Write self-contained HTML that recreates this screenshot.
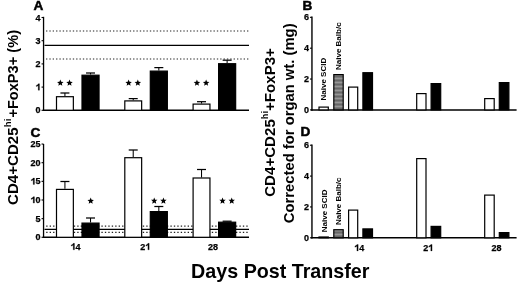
<!DOCTYPE html>
<html><head><meta charset="utf-8"><style>
html,body{margin:0;padding:0;background:#fff;}
svg{display:block;filter:grayscale(1);}
text{font-family:'Liberation Sans',sans-serif;font-weight:bold;fill:#000;}
</style></head><body>
<svg width="520" height="284" viewBox="0 0 520 284">
<defs><pattern id="hatch" width="4" height="4" patternUnits="userSpaceOnUse"><rect width="4" height="4" fill="#7a7a7a"/><rect y="0" width="4" height="1" fill="#666"/><rect y="2" width="4" height="1" fill="#969696"/></pattern></defs>
<rect width="520" height="284" fill="#fff"/>
<text x="33.50" y="10.10" font-size="13.6" text-anchor="start" stroke="#000" stroke-width="0.5">A</text>
<line x1="43.55" y1="16.80" x2="43.55" y2="111.00" stroke="#000" stroke-width="1.3"/>
<line x1="42.90" y1="110.30" x2="249.00" y2="110.30" stroke="#000" stroke-width="1.4"/>
<line x1="41.55" y1="110.30" x2="43.55" y2="110.30" stroke="#000" stroke-width="1.1"/>
<text x="35.60" y="113.40" font-size="9" stroke="#000" stroke-width="0.25">0</text>
<line x1="41.55" y1="87.10" x2="43.55" y2="87.10" stroke="#000" stroke-width="1.1"/>
<path d="M39.47,90.20 L38.21,90.20 L38.21,85.52 L37.22,86.15 L36.23,86.51 L36.23,85.38 L37.40,84.89 L38.30,83.76 L39.47,83.76Z" fill="#000" stroke="#000" stroke-width="0.25"/>
<line x1="41.55" y1="63.90" x2="43.55" y2="63.90" stroke="#000" stroke-width="1.1"/>
<text x="35.60" y="67.00" font-size="9" stroke="#000" stroke-width="0.25">2</text>
<line x1="41.55" y1="40.70" x2="43.55" y2="40.70" stroke="#000" stroke-width="1.1"/>
<text x="35.60" y="43.80" font-size="9" stroke="#000" stroke-width="0.25">3</text>
<line x1="41.55" y1="17.50" x2="43.55" y2="17.50" stroke="#000" stroke-width="1.1"/>
<text x="35.60" y="20.60" font-size="9" stroke="#000" stroke-width="0.25">4</text>
<line x1="46.00" y1="31.00" x2="249.00" y2="31.00" stroke="#222" stroke-width="1.15" stroke-dasharray="1.35 2.0"/>
<line x1="44.50" y1="45.35" x2="249.00" y2="45.35" stroke="#000" stroke-width="1.3"/>
<line x1="46.00" y1="59.00" x2="249.00" y2="59.00" stroke="#222" stroke-width="1.15" stroke-dasharray="1.35 2.0"/>
<rect x="56.50" y="96.70" width="16.85" height="13.60" fill="#fff" stroke="#000" stroke-width="1.2"/>
<line x1="64.92" y1="96.10" x2="64.92" y2="93.00" stroke="#000" stroke-width="1.05"/>
<line x1="60.42" y1="93.00" x2="69.42" y2="93.00" stroke="#000" stroke-width="1.25"/>
<rect x="82.00" y="75.20" width="17.05" height="35.10" fill="#000" stroke="#000" stroke-width="1.2"/>
<line x1="90.53" y1="74.60" x2="90.53" y2="73.00" stroke="#000" stroke-width="1.05"/>
<line x1="86.03" y1="73.00" x2="95.03" y2="73.00" stroke="#000" stroke-width="1.25"/>
<polygon points="60.32,79.60 61.22,81.76 63.56,81.95 61.78,83.47 62.32,85.75 60.32,84.53 58.33,85.75 58.87,83.47 57.09,81.95 59.43,81.76" fill="#000"/>
<polygon points="69.52,79.60 70.42,81.76 72.76,81.95 70.98,83.47 71.52,85.75 69.52,84.53 67.53,85.75 68.07,83.47 66.29,81.95 68.63,81.76" fill="#000"/>
<rect x="124.80" y="100.90" width="16.85" height="9.40" fill="#fff" stroke="#000" stroke-width="1.2"/>
<line x1="133.22" y1="100.30" x2="133.22" y2="98.60" stroke="#000" stroke-width="1.05"/>
<line x1="128.72" y1="98.60" x2="137.72" y2="98.60" stroke="#000" stroke-width="1.25"/>
<rect x="150.30" y="71.10" width="17.05" height="39.20" fill="#000" stroke="#000" stroke-width="1.2"/>
<line x1="158.82" y1="70.50" x2="158.82" y2="67.60" stroke="#000" stroke-width="1.05"/>
<line x1="154.32" y1="67.60" x2="163.32" y2="67.60" stroke="#000" stroke-width="1.25"/>
<polygon points="128.62,79.60 129.52,81.76 131.86,81.95 130.08,83.47 130.62,85.75 128.62,84.53 126.63,85.75 127.17,83.47 125.39,81.95 127.73,81.76" fill="#000"/>
<polygon points="137.82,79.60 138.72,81.76 141.06,81.95 139.28,83.47 139.82,85.75 137.82,84.53 135.83,85.75 136.37,83.47 134.59,81.95 136.93,81.76" fill="#000"/>
<rect x="193.10" y="104.10" width="16.85" height="6.20" fill="#fff" stroke="#000" stroke-width="1.2"/>
<line x1="201.53" y1="103.50" x2="201.53" y2="101.70" stroke="#000" stroke-width="1.05"/>
<line x1="197.03" y1="101.70" x2="206.03" y2="101.70" stroke="#000" stroke-width="1.25"/>
<rect x="218.60" y="63.70" width="17.05" height="46.60" fill="#000" stroke="#000" stroke-width="1.2"/>
<line x1="227.12" y1="63.10" x2="227.12" y2="60.20" stroke="#000" stroke-width="1.05"/>
<line x1="222.62" y1="60.20" x2="231.62" y2="60.20" stroke="#000" stroke-width="1.25"/>
<polygon points="196.93,79.60 197.82,81.76 200.16,81.95 198.38,83.47 198.92,85.75 196.93,84.53 194.93,85.75 195.47,83.47 193.69,81.95 196.03,81.76" fill="#000"/>
<polygon points="206.12,79.60 207.02,81.76 209.36,81.95 207.58,83.47 208.12,85.75 206.12,84.53 204.13,85.75 204.67,83.47 202.89,81.95 205.23,81.76" fill="#000"/>
<text x="30.60" y="136.50" font-size="13.6" text-anchor="start" stroke="#000" stroke-width="0.5">C</text>
<line x1="43.55" y1="144.00" x2="43.55" y2="238.00" stroke="#000" stroke-width="1.3"/>
<line x1="42.90" y1="237.30" x2="249.00" y2="237.30" stroke="#000" stroke-width="1.4"/>
<line x1="41.55" y1="237.30" x2="43.55" y2="237.30" stroke="#000" stroke-width="1.1"/>
<text x="35.60" y="240.40" font-size="9" stroke="#000" stroke-width="0.25">0</text>
<line x1="41.55" y1="218.65" x2="43.55" y2="218.65" stroke="#000" stroke-width="1.1"/>
<text x="35.60" y="221.75" font-size="9" stroke="#000" stroke-width="0.25">5</text>
<line x1="41.55" y1="200.00" x2="43.55" y2="200.00" stroke="#000" stroke-width="1.1"/>
<path d="M34.46,203.10 L33.20,203.10 L33.20,198.42 L32.21,199.05 L31.22,199.41 L31.22,198.28 L32.39,197.79 L33.29,196.66 L34.46,196.66Z" fill="#000" stroke="#000" stroke-width="0.25"/>
<text x="35.60" y="203.10" font-size="9" stroke="#000" stroke-width="0.25">0</text>
<line x1="41.55" y1="181.35" x2="43.55" y2="181.35" stroke="#000" stroke-width="1.1"/>
<path d="M34.46,184.45 L33.20,184.45 L33.20,179.77 L32.21,180.40 L31.22,180.76 L31.22,179.64 L32.39,179.14 L33.29,178.01 L34.46,178.01Z" fill="#000" stroke="#000" stroke-width="0.25"/>
<text x="35.60" y="184.45" font-size="9" stroke="#000" stroke-width="0.25">5</text>
<line x1="41.55" y1="162.70" x2="43.55" y2="162.70" stroke="#000" stroke-width="1.1"/>
<text x="30.59" y="165.80" font-size="9" stroke="#000" stroke-width="0.25">2</text>
<text x="35.60" y="165.80" font-size="9" stroke="#000" stroke-width="0.25">0</text>
<line x1="41.55" y1="144.05" x2="43.55" y2="144.05" stroke="#000" stroke-width="1.1"/>
<text x="30.59" y="147.15" font-size="9" stroke="#000" stroke-width="0.25">2</text>
<text x="35.60" y="147.15" font-size="9" stroke="#000" stroke-width="0.25">5</text>
<line x1="46.20" y1="226.10" x2="249.00" y2="226.10" stroke="#222" stroke-width="1.15" stroke-dasharray="1.35 2.1"/>
<line x1="44.50" y1="229.40" x2="249.00" y2="229.40" stroke="#000" stroke-width="1.3"/>
<line x1="46.20" y1="232.30" x2="249.00" y2="232.30" stroke="#222" stroke-width="1.15" stroke-dasharray="1.35 2.1"/>
<rect x="56.50" y="189.40" width="16.85" height="47.90" fill="#fff" stroke="#000" stroke-width="1.2"/>
<line x1="64.92" y1="188.80" x2="64.92" y2="181.50" stroke="#000" stroke-width="1.05"/>
<line x1="60.42" y1="181.50" x2="69.42" y2="181.50" stroke="#000" stroke-width="1.25"/>
<rect x="82.00" y="223.10" width="17.05" height="14.20" fill="#000" stroke="#000" stroke-width="1.2"/>
<line x1="90.53" y1="222.50" x2="90.53" y2="218.00" stroke="#000" stroke-width="1.05"/>
<line x1="86.03" y1="218.00" x2="95.03" y2="218.00" stroke="#000" stroke-width="1.25"/>
<rect x="124.80" y="157.70" width="16.85" height="79.60" fill="#fff" stroke="#000" stroke-width="1.2"/>
<line x1="133.22" y1="157.10" x2="133.22" y2="150.00" stroke="#000" stroke-width="1.05"/>
<line x1="128.72" y1="150.00" x2="137.72" y2="150.00" stroke="#000" stroke-width="1.25"/>
<rect x="150.30" y="211.60" width="17.05" height="25.70" fill="#000" stroke="#000" stroke-width="1.2"/>
<line x1="158.82" y1="211.00" x2="158.82" y2="206.50" stroke="#000" stroke-width="1.05"/>
<line x1="154.32" y1="206.50" x2="163.32" y2="206.50" stroke="#000" stroke-width="1.25"/>
<rect x="193.10" y="178.00" width="16.85" height="59.30" fill="#fff" stroke="#000" stroke-width="1.2"/>
<line x1="201.53" y1="177.40" x2="201.53" y2="169.50" stroke="#000" stroke-width="1.05"/>
<line x1="197.03" y1="169.50" x2="206.03" y2="169.50" stroke="#000" stroke-width="1.25"/>
<rect x="218.60" y="222.20" width="17.05" height="15.10" fill="#000" stroke="#000" stroke-width="1.2"/>
<line x1="227.12" y1="221.60" x2="227.12" y2="221.20" stroke="#000" stroke-width="1.05"/>
<line x1="222.62" y1="221.20" x2="231.62" y2="221.20" stroke="#000" stroke-width="1.25"/>
<polygon points="90.70,197.60 91.60,199.76 93.93,199.95 92.16,201.47 92.70,203.75 90.70,202.53 88.70,203.75 89.24,201.47 87.47,199.95 89.80,199.76" fill="#000"/>
<polygon points="154.22,197.50 155.12,199.66 157.46,199.85 155.68,201.37 156.22,203.65 154.22,202.43 152.23,203.65 152.77,201.37 150.99,199.85 153.33,199.66" fill="#000"/>
<polygon points="163.42,197.50 164.32,199.66 166.66,199.85 164.88,201.37 165.42,203.65 163.42,202.43 161.43,203.65 161.97,201.37 160.19,199.85 162.53,199.66" fill="#000"/>
<polygon points="222.53,197.50 223.42,199.66 225.76,199.85 223.98,201.37 224.52,203.65 222.53,202.43 220.53,203.65 221.07,201.37 219.29,199.85 221.63,199.66" fill="#000"/>
<polygon points="231.72,197.50 232.62,199.66 234.96,199.85 233.18,201.37 233.72,203.65 231.72,202.43 229.73,203.65 230.27,201.37 228.49,199.85 230.83,199.66" fill="#000"/>
<path d="M74.47,249.80 L73.21,249.80 L73.21,245.12 L72.22,245.75 L71.23,246.11 L71.23,244.99 L72.40,244.49 L73.30,243.36 L74.47,243.36Z" fill="#000" stroke="#000" stroke-width="0.25"/>
<text x="75.60" y="249.80" font-size="9" stroke="#000" stroke-width="0.25">4</text>
<text x="140.30" y="249.80" font-size="9" stroke="#000" stroke-width="0.25">2</text>
<path d="M149.17,249.80 L147.91,249.80 L147.91,245.12 L146.92,245.75 L145.93,246.11 L145.93,244.99 L147.10,244.49 L148.00,243.36 L149.17,243.36Z" fill="#000" stroke="#000" stroke-width="0.25"/>
<text x="208.00" y="249.80" font-size="9" stroke="#000" stroke-width="0.25">2</text>
<text x="213.00" y="249.80" font-size="9" stroke="#000" stroke-width="0.25">8</text>
<text x="302.40" y="9.90" font-size="13.6" text-anchor="start" stroke="#000" stroke-width="0.5">B</text>
<line x1="311.95" y1="16.60" x2="311.95" y2="110.65" stroke="#000" stroke-width="1.4"/>
<line x1="311.25" y1="109.90" x2="516.60" y2="109.90" stroke="#000" stroke-width="1.5"/>
<line x1="309.95" y1="109.90" x2="311.95" y2="109.90" stroke="#000" stroke-width="1.1"/>
<text x="304.00" y="113.00" font-size="9" stroke="#000" stroke-width="0.25">0</text>
<line x1="309.95" y1="79.04" x2="311.95" y2="79.04" stroke="#000" stroke-width="1.1"/>
<text x="304.00" y="82.14" font-size="9" stroke="#000" stroke-width="0.25">2</text>
<line x1="309.95" y1="48.18" x2="311.95" y2="48.18" stroke="#000" stroke-width="1.1"/>
<text x="304.00" y="51.28" font-size="9" stroke="#000" stroke-width="0.25">4</text>
<line x1="309.95" y1="17.32" x2="311.95" y2="17.32" stroke="#000" stroke-width="1.1"/>
<text x="304.00" y="20.42" font-size="9" stroke="#000" stroke-width="0.25">6</text>
<rect x="319.00" y="107.10" width="9.30" height="2.80" fill="#fff" stroke="#000" stroke-width="1.2"/>
<rect x="333.80" y="74.60" width="9.40" height="35.30" fill="url(#hatch)" stroke="#000" stroke-width="1.2"/>
<rect x="348.60" y="87.10" width="9.10" height="22.80" fill="#fff" stroke="#000" stroke-width="1.2"/>
<rect x="362.90" y="72.70" width="9.60" height="37.20" fill="#000" stroke="#000" stroke-width="1.2"/>
<rect x="416.70" y="93.60" width="9.30" height="16.30" fill="#fff" stroke="#000" stroke-width="1.2"/>
<rect x="431.10" y="83.60" width="9.60" height="26.30" fill="#000" stroke="#000" stroke-width="1.2"/>
<rect x="484.70" y="98.60" width="9.50" height="11.30" fill="#fff" stroke="#000" stroke-width="1.2"/>
<rect x="499.30" y="82.60" width="9.60" height="27.30" fill="#000" stroke="#000" stroke-width="1.2"/>
<text x="300.50" y="135.90" font-size="13.6" text-anchor="start" stroke="#000" stroke-width="0.5">D</text>
<line x1="311.95" y1="144.60" x2="311.95" y2="238.55" stroke="#000" stroke-width="1.4"/>
<line x1="311.25" y1="237.80" x2="516.60" y2="237.80" stroke="#000" stroke-width="1.5"/>
<line x1="309.95" y1="237.80" x2="311.95" y2="237.80" stroke="#000" stroke-width="1.1"/>
<text x="304.00" y="240.90" font-size="9" stroke="#000" stroke-width="0.25">0</text>
<line x1="309.95" y1="206.94" x2="311.95" y2="206.94" stroke="#000" stroke-width="1.1"/>
<text x="304.00" y="210.04" font-size="9" stroke="#000" stroke-width="0.25">2</text>
<line x1="309.95" y1="176.08" x2="311.95" y2="176.08" stroke="#000" stroke-width="1.1"/>
<text x="304.00" y="179.18" font-size="9" stroke="#000" stroke-width="0.25">4</text>
<line x1="309.95" y1="145.22" x2="311.95" y2="145.22" stroke="#000" stroke-width="1.1"/>
<text x="304.00" y="148.32" font-size="9" stroke="#000" stroke-width="0.25">6</text>
<rect x="319.00" y="237.00" width="9.30" height="0.80" fill="#fff" stroke="#000" stroke-width="1.2"/>
<rect x="333.80" y="229.70" width="9.40" height="8.10" fill="url(#hatch)" stroke="#000" stroke-width="1.2"/>
<rect x="348.60" y="210.10" width="9.10" height="27.70" fill="#fff" stroke="#000" stroke-width="1.2"/>
<rect x="362.90" y="228.90" width="9.60" height="8.90" fill="#000" stroke="#000" stroke-width="1.2"/>
<rect x="416.70" y="158.60" width="9.30" height="79.20" fill="#fff" stroke="#000" stroke-width="1.2"/>
<rect x="431.10" y="226.40" width="9.60" height="11.40" fill="#000" stroke="#000" stroke-width="1.2"/>
<rect x="484.70" y="195.10" width="9.50" height="42.70" fill="#fff" stroke="#000" stroke-width="1.2"/>
<rect x="499.30" y="232.60" width="9.60" height="5.20" fill="#000" stroke="#000" stroke-width="1.2"/>
<path d="M358.17,250.90 L356.91,250.90 L356.91,246.22 L355.92,246.85 L354.93,247.21 L354.93,246.09 L356.10,245.59 L357.00,244.46 L358.17,244.46Z" fill="#000" stroke="#000" stroke-width="0.25"/>
<text x="359.30" y="250.90" font-size="9" stroke="#000" stroke-width="0.25">4</text>
<text x="423.20" y="250.90" font-size="9" stroke="#000" stroke-width="0.25">2</text>
<path d="M432.07,250.90 L430.81,250.90 L430.81,246.22 L429.82,246.85 L428.83,247.21 L428.83,246.09 L430.00,245.59 L430.90,244.46 L432.07,244.46Z" fill="#000" stroke="#000" stroke-width="0.25"/>
<text x="491.50" y="250.90" font-size="9" stroke="#000" stroke-width="0.25">2</text>
<text x="496.50" y="250.90" font-size="9" stroke="#000" stroke-width="0.25">8</text>
<text transform="translate(325.70,100.50) rotate(-90)" font-size="8" text-anchor="start">Naive SCID</text>
<text transform="translate(341.40,70.00) rotate(-90)" font-size="8" text-anchor="start">Naive Balb/c</text>
<text transform="translate(326.50,232.20) rotate(-90)" font-size="8" text-anchor="start">Naive SCID</text>
<text transform="translate(341.00,225.10) rotate(-90)" font-size="8" text-anchor="start">Naive Balb/c</text>
<text transform="translate(17.90,205.00) rotate(-90)" font-size="15.1" text-anchor="start">CD4+CD25</text>
<text transform="translate(10.70,127.20) rotate(-90)" font-size="9.6" text-anchor="start">hi</text>
<text transform="translate(17.90,117.60) rotate(-90)" font-size="14.6" text-anchor="start">+FoxP3+ (%)</text>
<text transform="translate(274.80,196.80) rotate(-90)" font-size="15.1" text-anchor="start">CD4+CD25<tspan font-size="9.2" dy="-6.9">hi</tspan><tspan dy="6.9">+FoxP3+</tspan></text>
<text transform="translate(293.60,223.20) rotate(-90)" font-size="14.8" text-anchor="start">Corrected for organ wt. (mg)</text>
<text x="191.10" y="277.80" font-size="19.7" text-anchor="start">Days Post Transfer</text>
</svg></body></html>
